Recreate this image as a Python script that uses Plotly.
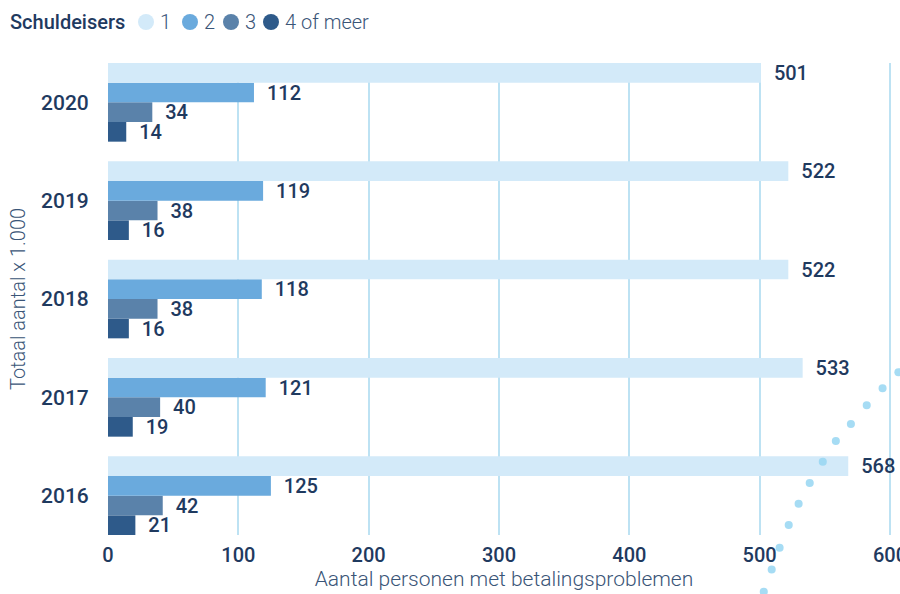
import plotly.graph_objects as go

years = ["2016", "2017", "2018", "2019", "2020"]
series_names = ["1", "2", "3", "4 of meer"]
v1 = [568, 533, 522, 522, 501]
v2 = [125, 121, 118, 119, 112]
v3 = [42, 40, 38, 38, 34]
v4 = [21, 19, 16, 16, 14]
x_ticks = [0, 100, 200, 300, 400, 500, 600]

colors = ["#d3eaf9", "#6aaadd", "#5a82aa", "#2e5a8a"]
navy = "#1f3a5f"
light_navy = "#3a5577"
FONT = "Roboto"

# legend layout (pixel positions of the custom legend row)
legend_title_px = 8
legend_circle_px = [146, 190, 231, 271]
legend_y_px = 22

# decorative dotted arc (paper coordinates, purely ornamental)
deco_x = [0.828, 0.838, 0.848, 0.8595, 0.872, 0.886, 0.9025, 0.919, 0.938, 0.958, 0.978, 0.998]
deco_y = [-0.12, -0.073, -0.027, 0.021, 0.066, 0.11, 0.155, 0.199, 0.235, 0.275, 0.311, 0.345]

L, R, T, B, W, H = 108, 0, 63, 59, 900, 594
pw, ph = W - L - R, H - T - B


def px_to_paper_x(px):
    return (px - L) / pw


def px_to_paper_y(py):
    return 1 - (py - T) / ph


fig = go.Figure()
all_vals = [v1, v2, v3, v4]
# plotly stacks horizontal group members bottom-up, so add series 4 first
for i in reversed(range(4)):
    fig.add_trace(go.Bar(
        y=years, x=all_vals[i], orientation="h", name=series_names[i],
        marker=dict(color=colors[i], line=dict(width=0)),
        text=all_vals[i], texttemplate="\u00a0\u00a0%{x}", textposition="outside",
        constraintext="none",
        textfont=dict(family=FONT, size=20, color=navy, weight=500),
        cliponaxis=False, showlegend=False,
    ))

shapes = []
for dx, dy in zip(deco_x, deco_y):
    shapes.append(dict(type="circle", xref="paper", yref="paper",
                       x0=dx - 0.0051, x1=dx + 0.0051, y0=dy - 0.0085, y1=dy + 0.0085,
                       fillcolor="rgba(150,214,242,0.85)", line=dict(width=0), layer="above"))

annotations = [dict(text="Schuldeisers", xref="paper", yref="paper",
                    x=px_to_paper_x(legend_title_px), y=px_to_paper_y(legend_y_px),
                    xanchor="left", yanchor="middle", showarrow=False,
                    font=dict(family=FONT, size=20, color=navy, weight=500))]
r = 8
for i, cx in enumerate(legend_circle_px):
    shapes.append(dict(type="circle", xref="paper", yref="paper",
                       x0=px_to_paper_x(cx - r), x1=px_to_paper_x(cx + r),
                       y0=px_to_paper_y(legend_y_px + r), y1=px_to_paper_y(legend_y_px - r),
                       fillcolor=colors[i], line=dict(width=0)))
    annotations.append(dict(text=series_names[i], xref="paper", yref="paper",
                            x=px_to_paper_x(cx + 12), y=px_to_paper_y(legend_y_px),
                            xanchor="left", yanchor="middle", showarrow=False,
                            font=dict(family=FONT, size=20, color=light_navy, weight=300)))

fig.update_layout(
    width=W, height=H,
    margin=dict(l=L, r=R, t=T, b=B, autoexpand=False),
    paper_bgcolor="white", plot_bgcolor="white",
    barmode="group", bargap=0.2, bargroupgap=0,
    font=dict(family=FONT, color=navy),
    shapes=shapes, annotations=annotations,
    showlegend=False,
    xaxis=dict(
        range=[0, 607.7], tickvals=x_ticks, showgrid=True, gridcolor="#bde2f3", gridwidth=2,
        zeroline=False, showline=False, ticklabeloverflow="allow", automargin=False,
        tickfont=dict(family=FONT, size=20, color=navy, weight=500),
        ticks="outside", ticklen=2, tickcolor="rgba(0,0,0,0)",
        title=dict(text="Aantal personen met betalingsproblemen",
                   font=dict(family=FONT, size=21, color=light_navy, weight=300), standoff=4),
    ),
    yaxis=dict(
        categoryorder="array", categoryarray=years, range=[-0.4, 4.4],
        showgrid=False, zeroline=False, showline=False, automargin=False,
        tickfont=dict(family=FONT, size=21, color=navy, weight=500),
        ticks="outside", ticklen=14, tickcolor="rgba(0,0,0,0)",
        title=dict(text="Totaal aantal x 1.000",
                   font=dict(family=FONT, size=20, color=light_navy, weight=300), standoff=10),
    ),
)

fig.write_html("out.html")
